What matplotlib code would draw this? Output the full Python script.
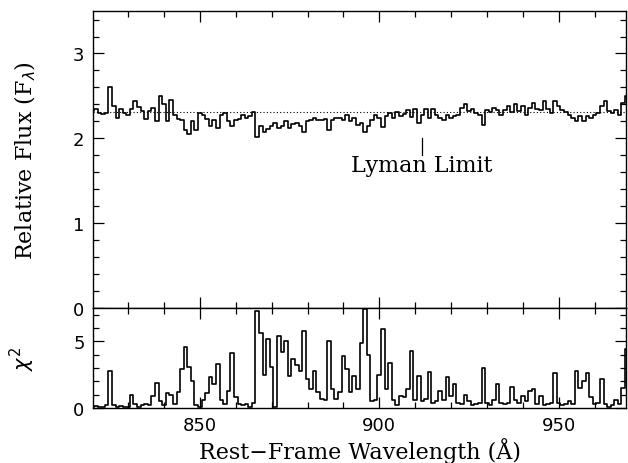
import numpy as np
import matplotlib
matplotlib.use("Agg")
import matplotlib.pyplot as plt
from matplotlib.ticker import MultipleLocator

# 1 A bins, 820-969 A
wave = np.arange(820, 970)
flux = [2.32, 2.35, 2.30, 2.29, 2.30, 2.60, 2.38, 2.24, 2.34, 2.30,
        2.28, 2.34, 2.44, 2.37, 2.32, 2.23, 2.32, 2.36, 2.20, 2.50,
        2.40, 2.20, 2.45, 2.28, 2.23, 2.22, 2.10, 2.05, 2.20, 2.10,
        2.30, 2.27, 2.23, 2.15, 2.22, 2.12, 2.28, 2.30, 2.20, 2.14,
        2.22, 2.23, 2.27, 2.24, 2.26, 2.31, 2.01, 2.14, 2.08, 2.11,
        2.14, 2.18, 2.12, 2.15, 2.20, 2.12, 2.17, 2.18, 2.15, 2.07,
        2.20, 2.22, 2.24, 2.22, 2.22, 2.23, 2.10, 2.22, 2.24, 2.24,
        2.22, 2.28, 2.20, 2.24, 2.16, 2.18, 2.07, 2.15, 2.22, 2.28,
        2.24, 2.13, 2.26, 2.30, 2.24, 2.31, 2.26, 2.29, 2.33, 2.25,
        2.34, 2.18, 2.27, 2.34, 2.24, 2.34, 2.28, 2.24, 2.22, 2.27,
        2.24, 2.26, 2.28, 2.36, 2.40, 2.32, 2.35, 2.30, 2.28, 2.16,
        2.33, 2.31, 2.36, 2.33, 2.28, 2.33, 2.38, 2.31, 2.40, 2.32,
        2.38, 2.28, 2.36, 2.42, 2.35, 2.33, 2.44, 2.34, 2.30, 2.44,
        2.38, 2.33, 2.31, 2.28, 2.24, 2.20, 2.26, 2.20, 2.26, 2.24,
        2.28, 2.30, 2.38, 2.44, 2.32, 2.30, 2.33, 2.28, 2.42, 2.50]
chi2 = [0.1, 0.15, 0.1, 0.05, 0.2, 2.8, 0.2, 0.1, 0.15, 0.05,
        0.1, 1.0, 0.3, 0.1, 0.2, 0.3, 0.2, 0.9, 1.9, 0.5,
        0.2, 1.1, 1.0, 0.3, 1.2, 2.9, 4.6, 3.1, 2.0, 0.2,
        0.1, 0.6, 1.1, 2.3, 1.8, 3.3, 0.6, 0.3, 1.3, 4.1,
        0.8, 0.3, 0.2, 0.3, 0.1, 0.4, 7.3, 5.6, 2.5, 5.2,
        3.1, 0.1, 5.4, 4.2, 5.0, 2.4, 3.7, 3.2, 2.8, 5.8,
        2.2, 1.4, 2.8, 1.2, 0.7, 0.6, 5.0, 1.4, 0.7, 1.2,
        3.9, 2.9, 1.2, 2.4, 1.4, 4.9, 7.4, 4.0, 0.5, 0.6,
        2.5, 5.9, 1.4, 3.4, 0.6, 0.2, 0.9, 0.8, 1.4, 4.3,
        0.6, 2.4, 0.5, 0.7, 2.7, 0.4, 0.5, 1.3, 0.6, 2.3,
        0.9, 1.8, 0.4, 0.3, 1.0, 0.5, 0.2, 0.3, 0.4, 3.0,
        0.4, 0.2, 0.6, 1.8, 0.4, 0.3, 0.4, 1.6, 0.6, 0.4,
        0.9, 0.5, 1.3, 1.4, 0.3, 0.9, 0.2, 0.3, 0.4, 2.6,
        0.4, 0.2, 0.3, 0.5, 0.3, 2.8, 1.5, 2.0, 2.6, 0.8,
        0.3, 0.4, 2.2, 0.3, 0.1, 0.2, 0.6, 0.3, 1.5, 4.4]
continuum = 2.31
lyman_limit = 911.8

serif = "DejaVu Serif"
plt.rcParams["font.family"] = "DejaVu Sans"

fig = plt.figure(figsize=(6.28, 4.64), dpi=100)
ax1 = fig.add_axes([0.148, 0.334, 0.849, 0.640])
ax2 = fig.add_axes([0.148, 0.1185, 0.849, 0.2155], sharex=ax1)

ax1.plot(wave, flux, drawstyle="steps-mid", color="k", lw=1.2)
ax1.axhline(continuum, color="k", ls=(0, (1, 2)), lw=0.8)
ax1.plot([lyman_limit, lyman_limit], [1.8, 2.0], color="k", lw=0.9)
ax1.text(lyman_limit, 1.69, "Lyman Limit", ha="center", va="center",
         family=serif, fontsize=16)

ax2.plot(wave, chi2, drawstyle="steps-mid", color="k", lw=1.2)

ax1.set_xlim(820.2, 968.8)
ax1.set_ylim(0, 3.5)
ax2.set_ylim(0, 7.5)

ax1.yaxis.set_major_locator(MultipleLocator(1))
ax1.yaxis.set_minor_locator(MultipleLocator(0.2))
ax2.yaxis.set_major_locator(MultipleLocator(5))
ax2.yaxis.set_minor_locator(MultipleLocator(1))
ax2.xaxis.set_major_locator(MultipleLocator(50))
ax2.xaxis.set_minor_locator(MultipleLocator(10))

for ax in (ax1, ax2):
    ax.tick_params(which="both", direction="in", top=True, right=True,
                   labelsize=13, pad=6, width=0.9)
    ax.tick_params(which="major", length=8)
    ax.tick_params(which="minor", length=4.5)
    for s in ax.spines.values():
        s.set_linewidth(1.0)
ax1.tick_params(labelbottom=False)

ax1.set_ylabel(r"Relative Flux (F$_\lambda$)", family=serif, fontsize=16)
ax2.set_ylabel(r"$\chi^2$", fontsize=15)
ax2.set_xlabel("Rest\u2212Frame Wavelength (\u00c5)", family=serif,
               fontsize=16, labelpad=2)
ax1.yaxis.set_label_coords(-0.103, 0.5)
ax2.yaxis.set_label_coords(-0.105, 0.5)

fig.savefig("out.png", dpi=100)
